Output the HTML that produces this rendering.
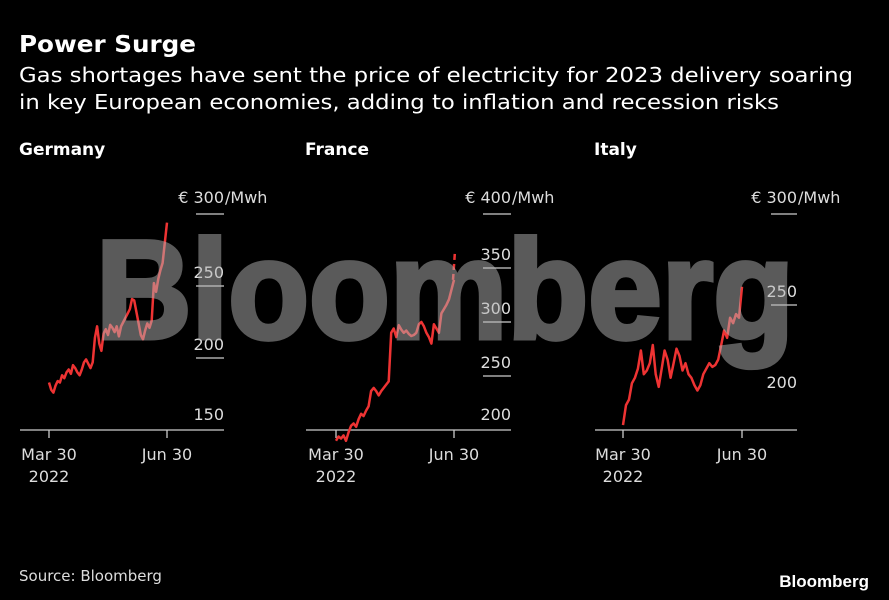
<!DOCTYPE html>
<html><head><meta charset="utf-8"><style>
html,body{margin:0;padding:0;background:#000;}
svg{display:block;font-family:"DejaVu Sans","Liberation Sans",sans-serif;}
</style></head><body>
<svg id="chart" width="889" height="600" viewBox="0 0 889 600">
<rect x="0" y="0" width="889" height="600" fill="#000"/>
<text x="19" y="52" fill="#fff" font-size="23" font-weight="bold" textLength="177" lengthAdjust="spacingAndGlyphs">Power Surge</text>
<text x="19" y="82" fill="#fff" font-size="20" textLength="834" lengthAdjust="spacingAndGlyphs">Gas shortages have sent the price of electricity for 2023 delivery soaring</text>
<text x="19" y="109" fill="#fff" font-size="20" textLength="760" lengthAdjust="spacingAndGlyphs">in key European economies, adding to inflation and recession risks</text>
<g id="panels"></g>
<g opacity="0.5">
<text x="96" y="338" fill="#b4b4b4" stroke="#b4b4b4" stroke-width="5" stroke-linejoin="miter" font-family="Liberation Sans, sans-serif" font-weight="bold" font-size="140" textLength="698" lengthAdjust="spacingAndGlyphs">Bloomberg</text>
</g>
<text x="19" y="581" fill="#ddd" font-size="15">Source: Bloomberg</text>
<text x="869" y="587" fill="#fff" font-family="Liberation Sans, sans-serif" font-weight="bold" font-size="17" text-anchor="end">Bloomberg</text>
</svg>
<script>
const panelNames = ["Germany", "France", "Italy"];
const germanyValues = [183,178,176,181,184,183,188,186,190,192,189,195,193,190,188,192,197,199,196,193,197,214,222,210,205,217,220,216,223,221,218,222,215,222,225,228,231,234,241,240,232,224,216,213,219,224,221,226,252,246,255,261,266,280,294];
const franceValues = [190,194,192,195,190,198,204,206,203,210,215,213,218,222,236,239,236,232,236,239,242,245,290,294,286,297,293,290,292,289,287,288,290,298,300,296,290,286,280,298,294,290,308,312,316,321,330,339];
const franceProjected = [339,352,366];
const italyValues = [184,195,198,207,210,215,225,212,214,218,228,212,205,215,225,220,210,218,226,222,214,218,212,210,206,203,206,212,215,218,216,217,220,228,236,232,243,240,245,243,260];
const germanyTicks = [150,200,250,300];
const franceTicks = [200,250,300,350,400];
const italyTicks = [200,250,300];
const xTickLabels = ["Mar 30", "Jun 30"];
const yearLabel = "2022";
const unitLabel = "/Mwh";

const NS = "http://www.w3.org/2000/svg";
const root = document.getElementById("panels");
function mk(tag, attrs, parent){const e=document.createElementNS(NS,tag);for(const k in attrs)e.setAttribute(k,attrs[k]);(parent||root).appendChild(e);return e;}

const configs = [
 {name:panelNames[0], x0:20, x1:224, start:49, end:167, vmin:150, vmax:300, ticks:germanyTicks, vals:germanyValues, proj:null, gridX:196, gridLine:[true,true,true,true]},
 {name:panelNames[1], x0:306, x1:511, start:336, end:454, vmin:200, vmax:400, ticks:franceTicks, vals:franceValues, proj:franceProjected, gridX:483, gridLine:[false,true,true,true,true]},
 {name:panelNames[2], x0:595, x1:797, start:623, end:742, vmin:200, vmax:300, ticks:italyTicks, vals:italyValues, proj:null, gridX:771, gridLine:[false,true,true]}
];
const topY = 214, baseY = 430;

configs.forEach((c, pi) => {
  const g = mk("g", {});
  
  
  let yScale;
  if (pi === 2) {
    yScale = v => topY + (300 - v) * (91/50);
  } else {
    yScale = v => baseY - (v - c.vmin) / (c.vmax - c.vmin) * (baseY - topY);
  }
  const t = mk("text", {x: c.x0 - 1, y: 155, fill: "#fff", "font-size": 17, "font-weight": "bold"}, g);
  t.textContent = c.name;
  
  
  c.ticks.forEach((v, i) => {
    const y = yScale(v);
    const isTop = i === c.ticks.length - 1;
    if (c.gridLine[i] && Math.abs(y - baseY) > 2) {
      const l = mk("line", {x1: c.gridX, x2: c.x1, y1: y, y2: y, stroke: "#ccc", "stroke-width": 1.3}, g);
      
      
    }
    const ly = isTop ? y - 11 : (Math.abs(y - baseY) < 2 ? y - 10 : y - 8);
    const lbl = mk("text", {x: c.x1, y: ly, fill: "#ddd", "font-size": 16, "text-anchor": "end"}, g);
    lbl.textContent = isTop ? "€ " + v : String(v);
    
    
    if (isTop) {
      const u = mk("text", {x: c.x1 + 1, y: ly, fill: "#ddd", "font-size": 16}, g);
      u.textContent = unitLabel;
      
      
    }
  });
  const ax = mk("line", {x1: c.x0, x2: c.x1, y1: baseY, y2: baseY, stroke: "#ccc", "stroke-width": 1.3}, g);
  
  
  [c.start, c.end].forEach((x, i) => {
    const tk = mk("line", {x1: x, x2: x, y1: baseY, y2: baseY + 8, stroke: "#ccc", "stroke-width": 1.3}, g);
    
    
    const tl = mk("text", {x: x, y: 460, fill: "#ddd", "font-size": 16, "text-anchor": "middle"}, g);
    tl.textContent = xTickLabels[i];
    
    
  });
  const yl = mk("text", {x: c.start, y: 482, fill: "#ddd", "font-size": 16, "text-anchor": "middle"}, g);
  yl.textContent = yearLabel;
  
  
  const n = c.vals.length;
  const xScale = i => c.start + i / (n - 1) * (c.end - c.start);
  const pts = c.vals.map((v, i) => xScale(i).toFixed(1) + "," + yScale(v).toFixed(1)).join(" ");
  const line = mk("polyline", {points: pts, fill: "none", stroke: "#ee3333", "stroke-width": 2.5, "stroke-linejoin": "round"}, g);
  
  
  if (c.proj) {
    const pp = c.proj.map((v, i) => (c.end - 1 + i).toFixed(1) + "," + yScale(v).toFixed(1)).join(" ");
    const dl = mk("polyline", {points: pp, fill: "none", stroke: "#ee3333", "stroke-width": 2.5, "stroke-dasharray": "6,4"}, g);
    
    
  }
});
</script>
</body></html>
